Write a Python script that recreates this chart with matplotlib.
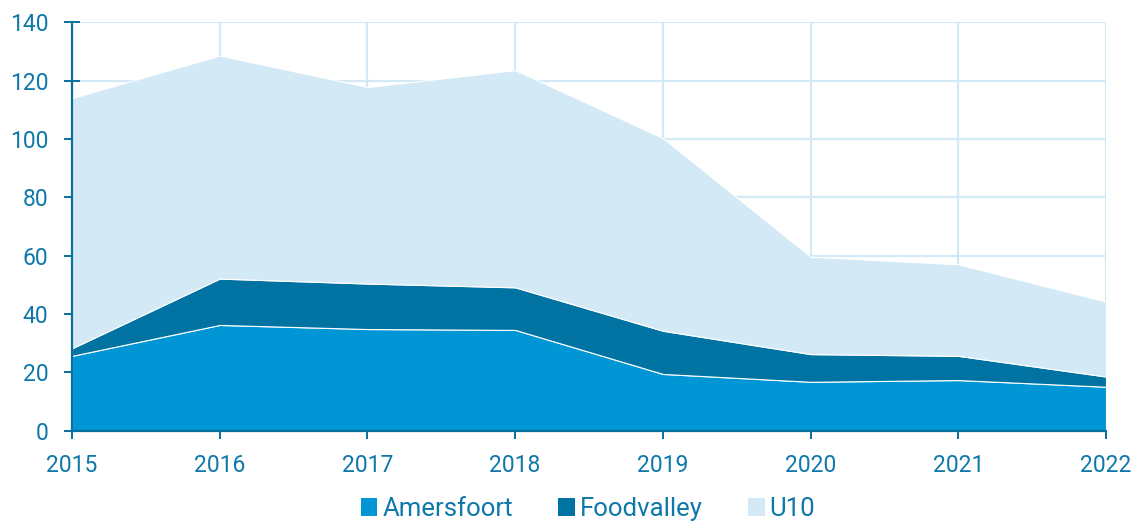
import matplotlib
matplotlib.use("Agg")
import matplotlib.pyplot as plt
from matplotlib.patches import Patch

years = [2015, 2016, 2017, 2018, 2019, 2020, 2021, 2022]
amersfoort = [25.6, 36.2, 34.8, 34.5, 19.4, 16.7, 17.3, 15.0]
foodvalley_top = [28.2, 52.1, 50.4, 49.1, 34.2, 26.2, 25.6, 18.5]
u10_top = [114.0, 128.6, 117.8, 123.6, 100.3, 59.6, 57.0, 44.2]
foodvalley = [f - a for f, a in zip(foodvalley_top, amersfoort)]
u10 = [u - f for u, f in zip(u10_top, foodvalley_top)]
labels = ["Amersfoort", "Foodvalley", "U10"]
colors = ["#0096D6", "#0073A3", "#D3E9F5"]

TXT = "#0E78AA"
SPINE = "#0A6E9E"
GRID = "#D3E9F5"

plt.rcParams['font.family'] = ['Roboto', 'DejaVu Sans']

fig = plt.figure(figsize=(11.35, 5.22), dpi=100)
ax = fig.add_axes([72/1135, 1 - 430.5/522, (1106-72)/1135, (430.5-22.3)/522])

ax.stackplot(years, amersfoort, foodvalley, u10, colors=colors,
             edgecolor="white", linewidth=0.8, zorder=2)

ax.set_xlim(2015, 2022)
ax.set_ylim(0, 140)
ax.set_yticks(range(0, 141, 20))
ax.set_xticks(years)
ax.grid(True, color=GRID, linewidth=1.6, zorder=0)
ax.set_axisbelow(True)
for s in ["top", "right"]:
    ax.spines[s].set_visible(False)
for s in ["left", "bottom"]:
    ax.spines[s].set_color(SPINE)
    ax.spines[s].set_linewidth(1.6)
    ax.spines[s].set_zorder(3)
ax.tick_params(axis="y", direction="inout", length=11, width=1.4, color=SPINE,
               labelcolor=TXT, labelsize=16.5, pad=11.5)
ax.tick_params(axis="x", direction="out", length=5.5, width=1.4, color=SPINE,
               labelcolor=TXT, labelsize=16.5, pad=11.5)

handles = [Patch(facecolor=c, edgecolor="none") for c in colors]
leg = fig.legend(handles, labels, loc="center", bbox_to_anchor=(588/1135, 1 - 509/522),
                 ncol=3, frameon=False, fontsize=18.5, handlelength=0.65,
                 handleheight=0.7, handletextpad=0.2, columnspacing=1.75,
                 borderpad=0.0)
for t in leg.get_texts():
    t.set_color(TXT)

fig.savefig("out.png", dpi=100)
